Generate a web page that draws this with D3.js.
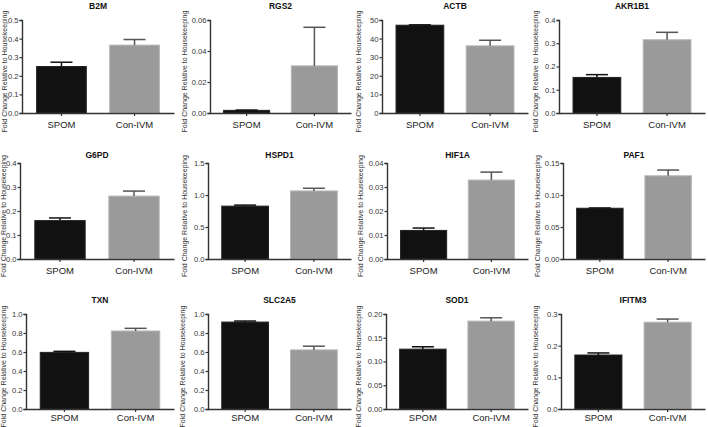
<!DOCTYPE html>
<html><head><meta charset="utf-8">
<script src="https://cdn.jsdelivr.net/npm/d3@7"></script>
<style>
html,body{margin:0;padding:0;background:#fff;}
svg{display:block;font-family:"Liberation Sans",Arial,Helvetica,sans-serif;}
</style></head>
<body><svg id="chart" width="708" height="427"></svg>
<script>
// ---- data ----
const genes = ["B2M","RGS2","ACTB","AKR1B1","G6PD","HSPD1","HIF1A","PAF1","TXN","SLC2A5","SOD1","IFITM3"];
const groups = ["SPOM","Con-IVM"];
const spomMean = [0.25, 0.0017, 47.2, 0.153, 0.16, 0.826, 0.0119, 0.0793, 0.596, 0.915, 0.126, 0.1705];
const spomErr  = [0.023, 0.0002, 0.2, 0.012, 0.011, 0.016, 0.001, 0.0004, 0.011, 0.011, 0.005, 0.0065];
const conMean  = [0.365, 0.0304, 36.1, 0.315, 0.262, 1.063, 0.0329, 0.130, 0.821, 0.622, 0.185, 0.274];
const conErr   = [0.03, 0.0249, 3.0, 0.032, 0.021, 0.042, 0.0033, 0.009, 0.028, 0.039, 0.007, 0.010];
const yMax     = [0.5, 0.06, 50, 0.4, 0.4, 1.5, 0.04, 0.15, 1.0, 1.0, 0.20, 0.3];
const yStep    = [0.1, 0.02, 10, 0.1, 0.1, 0.5, 0.01, 0.05, 0.2, 0.2, 0.05, 0.1];
const yDecimals= [1, 2, 0, 1, 1, 1, 2, 2, 1, 1, 2, 1];
const yAxisTitle = "Fold Change Relative to Housekeeping";

// ---- layout ----
const colX = [0, 177, 354, 531];
const axisOff = [22, 33, 28, 28, 20, 31, 33, 32, 26, 31, 32, 30];
const yTitleOff = [4, 7, 4, 4, 3, 7, 6, 6, 3, 5, 4, 4];
const rowTop = [20, 163, 314];
const rowBottom = [113, 259, 409];
const titleY = [9, 158, 303];
const catY = [128, 274, 421];
const plotRightOff = 174;
const barColors = ["#111111", "#9a9a9a"];
const errColors = ["#111111", "#555555"];

const svg = d3.select("#chart");

genes.forEach((g, i) => {
  const r = Math.floor(i / 4), c = i % 4;
  const x0 = colX[c] + axisOff[i], x1 = colX[c] + plotRightOff;
  const y0 = rowBottom[r], y1 = rowTop[r];
  const gp = svg.append("g");

  const x = d3.scaleBand().domain(groups).range([x0, x1]).paddingInner(0.32).paddingOuter(0.2);
  const y = d3.scaleLinear().domain([0, yMax[i]]).range([y0, y1]);
  const nT = Math.round(yMax[i] / yStep[i]);
  const tickVals = d3.range(nT + 1).map(k => +(k * yStep[i]).toFixed(6));

  const means = [spomMean[i], conMean[i]];
  const errs = [spomErr[i], conErr[i]];

  // bars
  groups.forEach((grp, k) => {
    gp.append("rect")
      .attr("x", x(grp)).attr("width", x.bandwidth())
      .attr("y", y(means[k])).attr("height", y0 - y(means[k]))
      .attr("fill", barColors[k])
      .attr("stroke", k === 0 ? "#222" : "#b5b5b5").attr("stroke-width", 1);
    const cx = x(grp) + x.bandwidth() / 2;
    const top = y(means[k] + errs[k]);
    gp.append("line").attr("x1", cx).attr("x2", cx).attr("y1", y(means[k])).attr("y2", top)
      .attr("stroke", errColors[k]).attr("stroke-width", 1.5);
    gp.append("line").attr("x1", cx - 11).attr("x2", cx + 11).attr("y1", top).attr("y2", top)
      .attr("stroke", errColors[k]).attr("stroke-width", 1.5);
  });

  // y axis
  const ya = d3.axisLeft(y).tickValues(tickVals).tickSize(2.5).tickPadding(1)
    .tickFormat(d => d.toFixed(yDecimals[i]));
  const yg = gp.append("g").attr("transform", `translate(${x0},0)`).call(ya);
  yg.select(".domain").attr("stroke", "#333").attr("stroke-width", 1.4);
  yg.selectAll(".tick line").attr("stroke", "#333").attr("stroke-width", 1.2);
  yg.selectAll("text").attr("font-size", 7.6).attr("fill", "#333")
    .attr("font-family", "Liberation Sans, Arial, sans-serif");

  // x axis
  const xa = d3.axisBottom(x).tickSize(3).tickSizeOuter(0).tickPadding(5);
  const xg = gp.append("g").attr("transform", `translate(0,${y0})`).call(xa);
  xg.select(".domain").attr("stroke", "#333").attr("stroke-width", 1.4);
  xg.selectAll(".tick line").attr("stroke", "#333").attr("stroke-width", 1.2);
  xg.selectAll("text").remove();
  groups.forEach(grp => {
    gp.append("text").attr("x", x(grp) + x.bandwidth() / 2).attr("y", catY[r])
      .attr("text-anchor", "middle").attr("font-size", 9.5).attr("fill", "#222").text(grp);
  });

  // title
  gp.append("text").attr("x", (x0 + x1) / 2).attr("y", titleY[r])
    .attr("text-anchor", "middle").attr("font-size", 8.5).attr("font-weight", "bold")
    .attr("fill", "#111").text(g);

  // y axis title
  const tx = colX[c] + yTitleOff[i] + 2.5, ty = (y0 + y1) / 2 + 5;
  gp.append("text").attr("transform", `translate(${tx},${ty}) rotate(-90)`)
    .attr("text-anchor", "middle").attr("font-size", 7).attr("fill", "#333").text(yAxisTitle);
});
</script></body></html>
